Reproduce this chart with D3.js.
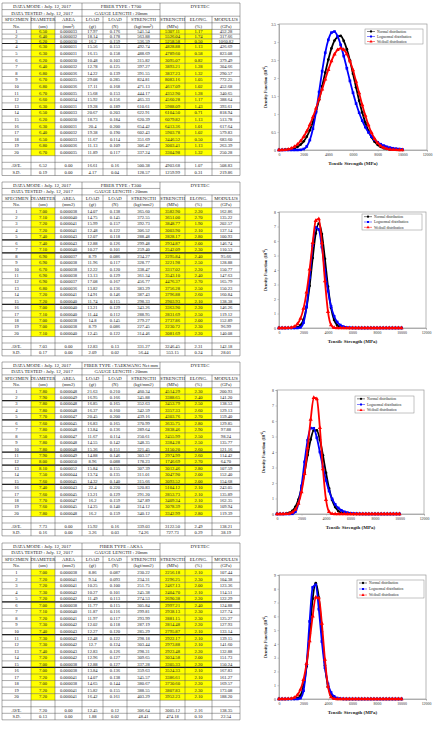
<!DOCTYPE html>
<html><head><meta charset="utf-8">
<script src="https://cdn.jsdelivr.net/npm/d3@7"></script>
<style>body{margin:0;background:#fff}svg{display:block}text{font-family:"Liberation Serif","Times New Roman",serif}</style>
</head><body><svg id="c" width="442" height="743"></svg>
<script>
// ---------- TABLE DATA ----------
const colNames = ["SPECIMEN","DIAMETER","AREA","LOAD","LOAD","STRENGTH","STRENGTH","ELONG.","MODULUS"];
const units1 = ["No.","(um)","(mm²)","(gf)","(N)","(kgf/mm²)","(MPa)","(%)","(GPa)"];
const units2 = ["No.","(um)","(mm2)","(gf)","(N)","(kgf/mm2)","(MPa)","(%)","(GPa)"];

const t1Titles = ["DATA MODE : July. 12, 2017","FIBER TYPE : T700","DYETEC","DATA TESTED : July. 12, 2017","GAUGE LENGTH : 20mm"];
const t1Rows = [
"6.50 0.000033 17.97 0.176 541.54 5307.11 1.17 452.28",
"6.40 0.000032 18.14 0.178 563.88 5526.04 1.74 317.66",
"6.20 0.000030 16.2 0.159 536.59 5258.58 0.50 1060.82",
"6.30 0.000031 15.56 0.153 492.74 4828.88 1.13 426.69",
"6.30 0.000031 16.15 0.158 488.69 4789.60 0.58 823.08",
"6.20 0.000030 10.48 0.103 315.82 3095.07 0.82 379.49",
"6.40 0.000032 12.78 0.125 397.27 3893.21 1.28 304.66",
"6.80 0.000036 14.22 0.139 391.55 3837.23 1.32 290.57",
"6.70 0.000035 29.08 0.285 824.81 8083.16 1.05 772.25",
"6.80 0.000036 17.11 0.168 471.13 4617.09 1.02 452.68",
"6.70 0.000035 15.68 0.153 444.17 4352.90 1.28 340.65",
"6.60 0.000034 15.92 0.156 465.33 4560.28 1.17 388.64",
"6.30 0.000031 19.28 0.189 610.61 5988.09 1.43 393.61",
"6.50 0.000033 20.67 0.203 622.91 6104.50 0.71 818.94",
"6.20 0.000030 18.73 0.184 620.39 6079.82 1.13 513.78",
"6.30 0.000031 20.4 0.200 654.42 6413.36 1.01 617.64",
"6.40 0.000032 19.38 0.190 602.43 5903.78 1.02 579.83",
"6.50 0.000033 11.67 0.114 351.69 3446.52 0.50 683.60",
"6.80 0.000036 11.13 0.109 306.47 3003.41 1.13 263.39",
"6.70 0.000035 11.89 0.117 337.24 3304.98 1.32 250.28"];
const t1Ave = "6.52 0.00 16.61 0.16 500.38 4903.68 1.07 508.83";
const t1Sd  = "0.19 0.00 4.17 0.04 128.57 1259.99 0.31 219.86";

const t2Titles = ["DATA MODE : July. 12, 2017","FIBER TYPE : T300","DYETEC","DATA TESTED : July. 12, 2017","GAUGE LENGTH : 20mm"];
const t2Rows = [
"7.00 0.000038 14.07 0.138 365.60 3582.90 2.20 162.86",
"7.10 0.000040 14.75 0.145 372.55 3651.00 2.70 135.22",
"7.20 0.000041 15.99 0.157 392.73 3848.77 1.90 202.57",
"7.20 0.000041 12.48 0.122 306.52 3003.90 2.10 137.14",
"7.40 0.000043 12.07 0.118 288.48 2828.17 2.80 100.93",
"7.40 0.000043 12.88 0.126 299.48 2934.87 2.00 146.74",
"7.10 0.000040 10.27 0.101 259.40 2542.09 2.30 110.53",
"6.90 0.000037 8.79 0.086 234.27 2295.84 2.40 95.66",
"6.90 0.000038 11.96 0.117 328.77 3221.98 2.50 128.88",
"6.70 0.000038 12.22 0.120 338.47 3317.02 2.20 150.77",
"6.90 0.000038 13.13 0.129 361.34 3543.10 2.40 147.63",
"6.90 0.000037 17.08 0.167 456.77 4476.37 2.70 165.79",
"6.80 0.000036 13.82 0.136 383.29 3756.28 2.50 150.23",
"7.20 0.000041 14.91 0.146 387.43 3796.88 2.60 160.84",
"7.20 0.000040 11.74 0.115 298.33 2903.93 2.10 138.38",
"7.00 0.000040 13.21 0.129 343.26 3363.90 2.20 146.26",
"7.10 0.000040 11.44 0.112 288.95 2831.69 2.50 119.12",
"7.00 0.000038 14.8 0.145 279.27 2737.86 2.00 152.89",
"7.00 0.000038 8.79 0.086 227.45 2230.72 2.30 96.99",
"7.10 0.000040 12.45 0.122 314.46 3081.69 2.20 140.08"];
const t2Ave = "7.03 0.00 12.83 0.13 331.27 3246.45 2.31 142.18";
const t2Sd  = "0.17 0.00 2.09 0.02 56.44 553.15 0.24 28.01";

const t3Titles = ["DATA MODE : July. 12, 2017","FIBER TYPE : TAEKWANG Net mm","DYETEC","DATA TESTED : July. 12, 2017","GAUGE LENGTH : 20mm"];
const t3Rows = [
"7.80 0.000048 21.63 0.210 460.34 4514.29 2.30 200.93",
"7.90 0.000049 16.95 0.166 345.88 3388.65 2.40 141.20",
"7.80 0.000048 16.85 0.165 352.63 3453.79 2.50 138.53",
"7.80 0.000048 16.37 0.160 342.59 3357.33 2.60 129.13",
"7.70 0.000047 20.45 0.200 439.16 4303.76 2.70 159.40",
"7.60 0.000045 16.83 0.165 370.99 3635.75 2.80 129.85",
"7.80 0.000048 13.84 0.136 289.64 2838.46 2.90 97.88",
"7.50 0.000047 11.67 0.114 250.61 2455.99 2.50 98.24",
"7.80 0.000048 14.55 0.142 348.35 3384.28 2.50 135.77",
"7.80 0.000048 15.36 0.151 321.45 3150.20 2.60 121.16",
"7.90 0.000049 14.88 0.146 303.57 2974.99 2.60 114.42",
"8.00 0.000050 8.96 0.088 178.23 1746.69 2.70 64.70",
"8.10 0.000052 15.84 0.155 307.39 3012.46 2.80 107.59",
"7.50 0.000044 13.74 0.135 311.01 3047.90 2.00 152.40",
"7.60 0.000045 14.32 0.140 315.66 3093.52 2.00 154.68",
"7.40 0.000043 22.4 0.220 520.83 5104.12 2.10 243.05",
"7.60 0.000045 13.21 0.129 291.20 2853.73 2.10 135.89",
"7.70 0.000047 16.2 0.159 347.89 3409.34 2.10 162.35",
"7.60 0.000045 14.25 0.140 314.12 3078.39 2.80 109.94",
"7.80 0.000048 16.2 0.159 340.12 3342.99 2.80 119.39"];
const t3Ave = "7.73 0.00 15.92 0.16 339.03 3122.50 2.49 138.21";
const t3Sd  = "0.16 0.00 3.26 0.03 74.26 727.73 0.29 38.19";

const t4Titles = ["DATA MODE : July. 12, 2017","FIBER TYPE : AKSA","DYETEC","DATA TESTED : July. 12, 2017","GAUGE LENGTH : 20mm"];
const t4Rows = [
"7.00 0.000038 8.86 0.087 230.22 2256.18 2.10 107.44",
"7.20 0.000041 9.54 0.093 234.31 2296.25 2.30 104.38",
"7.20 0.000041 10.25 0.100 251.75 2467.13 2.00 123.36",
"7.30 0.000042 10.27 0.101 245.38 2404.70 2.10 114.51",
"7.20 0.000042 11.49 0.113 274.53 2690.38 2.20 122.29",
"7.00 0.000038 11.77 0.115 305.84 2997.21 2.40 124.88",
"7.10 0.000040 11.87 0.116 299.81 2938.13 2.30 127.74",
"7.20 0.000041 11.97 0.117 293.99 2881.15 2.30 125.27",
"7.30 0.000042 12.02 0.118 287.19 2814.48 2.20 127.93",
"7.40 0.000043 12.27 0.120 285.29 2795.87 2.10 133.14",
"7.30 0.000042 12.48 0.122 298.18 2922.17 2.10 139.15",
"7.30 0.000042 12.7 0.124 303.44 2973.88 2.10 141.60",
"7.40 0.000043 12.83 0.126 298.31 2923.48 2.20 132.88",
"7.20 0.000042 12.96 0.127 309.65 3034.58 2.00 151.73",
"7.00 0.000038 12.88 0.127 337.28 3305.33 2.20 150.24",
"7.00 0.000038 13.84 0.136 359.63 3524.33 2.10 167.83",
"7.20 0.000041 14.07 0.138 345.57 3386.61 2.10 161.27",
"7.00 0.000038 14.65 0.144 380.67 3730.60 2.20 169.57",
"7.20 0.000041 15.82 0.155 388.55 3807.83 2.30 173.08",
"7.20 0.000041 16.42 0.161 403.29 3952.23 2.10 188.20"];
const t4Ave = "7.20 0.00 12.45 0.12 306.64 3005.12 2.16 138.35";
const t4Sd  = "0.13 0.00 1.88 0.02 48.41 474.18 0.10 22.54";

// ---------- CHART DATA (density, x10^-4) ----------
const strengthMPa = [0,250,500,750,1000,1250,1500,1750,2000,2250,2500,2750,3000,3250,3500,3750,4000,4250,4500,4750,5000,5250,5500,5750,6000,6250,6500,6750,7000,7250,7500,7750,8000,8250,8500,8750,9000,9250,9500,9750,10000];
const xTicks = [0,2000,4000,6000,8000,10000,12000];
const seriesNames = ["Normal distribution","Lognormal distribution","Weibull distribution"];

const normal1 = [0.002,0.004,0.008,0.015,0.029,0.052,0.090,0.151,0.241,0.371,0.548,0.779,1.065,1.40,1.77,2.15,2.51,2.82,3.04,3.14,3.17,3.03,2.80,2.49,2.12,1.74,1.37,1.04,0.76,0.53,0.36,0.23,0.145,0.087,0.05,0.028,0.015,0.008,0.004,0.002,0.001];
const lognormal1 = [0,0,0,0,0,0,0.0004,0.005,0.027,0.10,0.276,0.592,1.05,1.61,2.19,2.70,3.06,3.26,3.29,3.16,2.92,2.61,2.27,1.92,1.59,1.29,1.035,0.817,0.636,0.49,0.375,0.285,0.214,0.16,0.12,0.088,0.065,0.048,0.036,0.026,0.019];
const weibull1 = [0,0.0007,0.006,0.020,0.047,0.092,0.158,0.249,0.369,0.520,0.701,0.915,1.155,1.416,1.689,1.964,2.230,2.468,2.660,2.780,2.822,2.786,2.668,2.47,2.22,1.90,1.58,1.25,0.957,0.694,0.481,0.314,0.195,0.113,0.062,0.032,0.015,0.007,0.003,0.001,0.0005];

const normal2 = [0,0,0,0,0.002,0.011,0.05,0.19,0.57,1.43,2.91,4.82,6.52,7.20,6.48,4.76,2.85,1.39,0.56,0.18,0.05,0.01,0.002,0,0,0,0,0,0,0,0,0,0,0,0,0,0,0,0,0,0];
const lognormal2 = [0,0,0,0,0,0,0.002,0.047,0.371,1.467,3.48,5.68,6.94,6.79,5.58,3.99,2.55,1.49,0.81,0.415,0.203,0.095,0.043,0.019,0.008,0.003,0.001,0,0,0,0,0,0,0,0,0,0,0,0,0,0];
const weibull2 = [0,0,0.0006,0.006,0.029,0.100,0.277,0.649,1.337,2.463,4.05,5.87,7.40,7.52,5.86,3.24,1.12,0.21,0.017,0.0005,0,0,0,0,0,0,0,0,0,0,0,0,0,0,0,0,0,0,0,0,0];

const normal3 = [0.0006,0.002,0.008,0.027,0.078,0.20,0.46,0.93,1.67,2.67,3.80,4.81,5.40,5.40,4.79,3.78,2.65,1.65,0.91,0.45,0.20,0.076,0.026,0.008,0.002,0,0,0,0,0,0,0,0,0,0,0,0,0,0,0,0];
const lognormal3 = [0,0,0,0,0.0004,0.014,0.145,0.67,1.81,3.36,4.76,5.54,5.53,4.92,4.00,3.03,2.17,1.48,0.97,0.62,0.39,0.24,0.14,0.085,0.050,0.029,0.017,0.010,0.006,0.003,0.002,0.001,0,0,0,0,0,0,0,0,0];
const weibull3 = [0,0,0.0006,0.006,0.031,0.107,0.294,0.689,1.418,2.60,4.26,6.10,7.50,7.42,5.56,2.90,0.92,0.15,0.010,0.0002,0,0,0,0,0,0,0,0,0,0,0,0,0,0,0,0,0,0,0,0,0];

const normal4 = [0,0,0,0,0.001,0.009,0.054,0.25,0.89,2.36,4.77,7.28,8.41,7.36,4.88,2.44,0.93,0.27,0.058,0.009,0.001,0,0,0,0,0,0,0,0,0,0,0,0,0,0,0,0,0,0,0,0];
const lognormal4 = [0,0,0,0,0,0,0.002,0.062,0.60,2.49,5.63,8.11,8.29,6.52,4.17,2.27,1.09,0.47,0.19,0.069,0.024,0.008,0.003,0.001,0,0,0,0,0,0,0,0,0,0,0,0,0,0,0,0,0];
const weibull4 = [0,0,0.0006,0.006,0.030,0.105,0.29,0.68,1.40,2.56,4.20,6.01,7.38,7.32,5.48,2.86,0.91,0.15,0.010,0.0002,0,0,0,0,0,0,0,0,0,0,0,0,0,0,0,0,0,0,0,0,0];

// ---------- DRAW ----------
const svg = d3.select("#c");
const colX = [2,31,55,82,103,127,160,185,212,240];
const yellowCols = [1,6,7];

function drawTable(top, rowH, titles, units, rows, ave, sd, thick) {
  const g = svg.append("g");
  const ys = [top];
  rowH.forEach(h => ys.push(ys[ys.length-1] + h));
  const fs = 4.6;
  rows.forEach((r, i) => {
    yellowCols.forEach(c => {
      g.append("rect").attr("x", colX[c]).attr("y", ys[4+i]).attr("width", colX[c+1]-colX[c])
        .attr("height", rowH[4+i]).attr("fill", "#ffff00");
    });
  });
  ys.forEach((y, i) => {
    const x1 = (i === 1) ? 160 : 240;
    g.append("line").attr("x1", 2).attr("x2", x1).attr("y1", y).attr("y2", y)
      .attr("stroke", "#444").attr("stroke-width", 0.45);
  });
  thick.forEach(n => {
    g.append("line").attr("x1", 2).attr("x2", 240).attr("y1", ys[4+n]).attr("y2", ys[4+n])
      .attr("stroke", "#222").attr("stroke-width", 1.2);
  });
  colX.forEach((x, c) => {
    const full = (c === 0 || c === 3 || c === 6 || c === 9);
    g.append("line").attr("x1", x).attr("x2", x).attr("y1", full ? ys[0] : ys[2]).attr("y2", ys[ys.length-1])
      .attr("stroke", "#444").attr("stroke-width", 0.45);
  });
  function txt(x, rIdx, s, size) {
    g.append("text").attr("x", x).attr("y", ys[rIdx] + rowH[rIdx]/2 + (size||fs)*0.34)
      .attr("text-anchor", "middle").attr("font-size", size||fs).attr("fill", "#222").text(s);
  }
  txt((colX[0]+colX[3])/2, 0, titles[0], 4.8);
  txt((colX[3]+colX[6])/2, 0, titles[1], 4.8);
  txt((colX[6]+colX[9])/2, 0, titles[2], 4.8);
  txt((colX[0]+colX[3])/2, 1, titles[3], 4.8);
  txt((colX[3]+colX[6])/2, 1, titles[4], 4.8);
  colNames.forEach((s, c) => txt((colX[c]+colX[c+1])/2, 2, s, 4.8));
  units.forEach((s, c) => txt((colX[c]+colX[c+1])/2, 3, s, 4.6));
  rows.forEach((r, i) => {
    txt((colX[0]+colX[1])/2, 4+i, String(i+1));
    r.split(" ").forEach((v, j) => txt((colX[j+1]+colX[j+2])/2, 4+i, v));
  });
  txt((colX[0]+colX[1])/2, 25, "AVE.");
  ave.split(" ").forEach((v, j) => txt((colX[j+1]+colX[j+2])/2, 25, v));
  txt((colX[0]+colX[1])/2, 26, "S.D.");
  sd.split(" ").forEach((v, j) => txt((colX[j+1]+colX[j+2])/2, 26, v));
}

function rowHeights(h, shortRows, hs) {
  const a = [];
  for (let i = 0; i < 27; i++) a.push(shortRows.includes(i) ? hs : h);
  return a;
}

drawTable(3, rowHeights(6.6, [4,5,6], 4.7), t1Titles, units1, t1Rows, t1Ave, t1Sd, [3,13]);
drawTable(182, rowHeights(6.44, [], 0), t2Titles, units2, t2Rows, t2Ave, t2Sd, [5,7,15]);
drawTable(362, rowHeights(6.44, [], 0), t3Titles, units2, t3Rows, t3Ave, t3Sd, [2,5,10,12,15]);
drawTable(543, rowHeights(6.55, [], 0), t4Titles, units2, t4Rows, t4Ave, t4Sd, [5,10,15]);

const colors = ["#000000", "#0000ff", "#ff0000"];
const symbols = [d3.symbolCircle, d3.symbolSquare, d3.symbolTriangle];
const symSize = [6, 7, 7.5];

function drawChart(cfg) {
  const g = svg.append("g");
  const x = d3.scaleLinear().domain([0, 12000]).range([cfg.x0, cfg.x1]);
  const y = d3.scaleLinear().domain([0, cfg.yMax]).range([cfg.y1, cfg.y0]);
  g.append("rect").attr("x", cfg.x0).attr("y", cfg.y0).attr("width", cfg.x1-cfg.x0).attr("height", cfg.y1-cfg.y0)
    .attr("fill", "none").attr("stroke", "#999").attr("stroke-width", 0.7);
  const xa = g.append("g").attr("transform", `translate(0,${cfg.y1})`)
    .call(d3.axisBottom(x).tickValues(xTicks).tickSize(1.5).tickFormat(d3.format("d")));
  const ya = g.append("g").attr("transform", `translate(${cfg.x0},0)`)
    .call(d3.axisLeft(y).tickValues(cfg.yTicks).tickSize(1.5).tickFormat(d => String(d)));
  [xa, ya].forEach(a => {
    a.select(".domain").attr("stroke", "#999").attr("stroke-width", 0.7);
    a.selectAll(".tick line").attr("stroke", "#999").attr("stroke-width", 0.5);
    a.selectAll(".tick text").attr("font-size", 3.9).attr("fill", "#333")
      .attr("font-family", '"Liberation Serif","Times New Roman",serif');
  });
  xa.selectAll(".tick text").attr("dy", "0.9em").attr("y", 2.5);
  ya.selectAll(".tick text").attr("x", -3);
  g.append("text").attr("x", (cfg.x0+cfg.x1)/2).attr("y", cfg.y1 + 15).attr("text-anchor", "middle")
    .attr("font-size", 5).attr("font-weight", "bold").attr("fill", "#222").text("Tensile Strength (MPa)");
  const yl = g.append("text").attr("transform", `translate(${cfg.x0 - 12.5},${(cfg.y0+cfg.y1)/2}) rotate(-90)`)
    .attr("text-anchor", "middle").attr("font-size", 4.3).attr("font-weight", "bold").attr("fill", "#222");
  yl.append("tspan").text("Density Function (10");
  yl.append("tspan").attr("dy", -1.5).attr("font-size", 3).text("-4");
  yl.append("tspan").attr("dy", 1.5).text(")");

  const line = d3.line().x((d, i) => x(strengthMPa[i])).y(d => y(d)).curve(d3.curveMonotoneX);
  cfg.series.forEach((s, k) => {
    g.append("path").datum(s).attr("d", line).attr("fill", "none").attr("stroke", colors[k]).attr("stroke-width", 1.8);
    g.selectAll(null).data(s).enter().append("path")
      .attr("transform", (d, i) => `translate(${x(strengthMPa[i])},${y(d)})`)
      .attr("d", d3.symbol().type(symbols[k]).size(symSize[k]))
      .attr("fill", colors[k]);
  });
  const L = cfg.legend;
  g.append("rect").attr("x", L.x0).attr("y", L.y0).attr("width", L.x1-L.x0).attr("height", L.y1-L.y0)
    .attr("fill", "#fff").attr("stroke", "#888").attr("stroke-width", 0.5);
  const step = (L.y1 - L.y0) / 3;
  seriesNames.forEach((nm, k) => {
    const yy = L.y0 + step*(k+0.5);
    g.append("line").attr("x1", L.x0+2).attr("x2", L.x0+10).attr("y1", yy).attr("y2", yy)
      .attr("stroke", colors[k]).attr("stroke-width", 0.5);
    g.append("path").attr("transform", `translate(${L.x0+6},${yy})`)
      .attr("d", d3.symbol().type(symbols[k]).size(4)).attr("fill", colors[k]);
    g.append("text").attr("x", L.x0+12).attr("y", yy+1.2).attr("font-size", 3.7).attr("fill", "#222").text(nm);
  });
}

drawChart({x0:279, x1:427, y0:24, y1:150, yMax:3.5, yTicks:[0,0.5,1,1.5,2,2.5,3,3.5],
  series:[normal1, lognormal1, weibull1], legend:{x0:365, x1:423, y0:29, y1:44}});
drawChart({x0:279, x1:426, y0:212, y1:328, yMax:8, yTicks:[0,1,2,3,4,5,6,7,8],
  series:[normal2, lognormal2, weibull2], legend:{x0:362, x1:422, y0:214, y1:230}});
drawChart({x0:277, x1:424, y0:390, y1:514, yMax:8, yTicks:[0,1,2,3,4,5,6,7,8],
  series:[normal3, lognormal3, weibull3], legend:{x0:355, x1:414, y0:396, y1:413}});
drawChart({x0:279, x1:426, y0:575, y1:699, yMax:9, yTicks:[0,1,2,3,4,5,6,7,8,9],
  series:[normal4, lognormal4, weibull4], legend:{x0:357, x1:424, y0:580, y1:598}});
</script></body></html>
